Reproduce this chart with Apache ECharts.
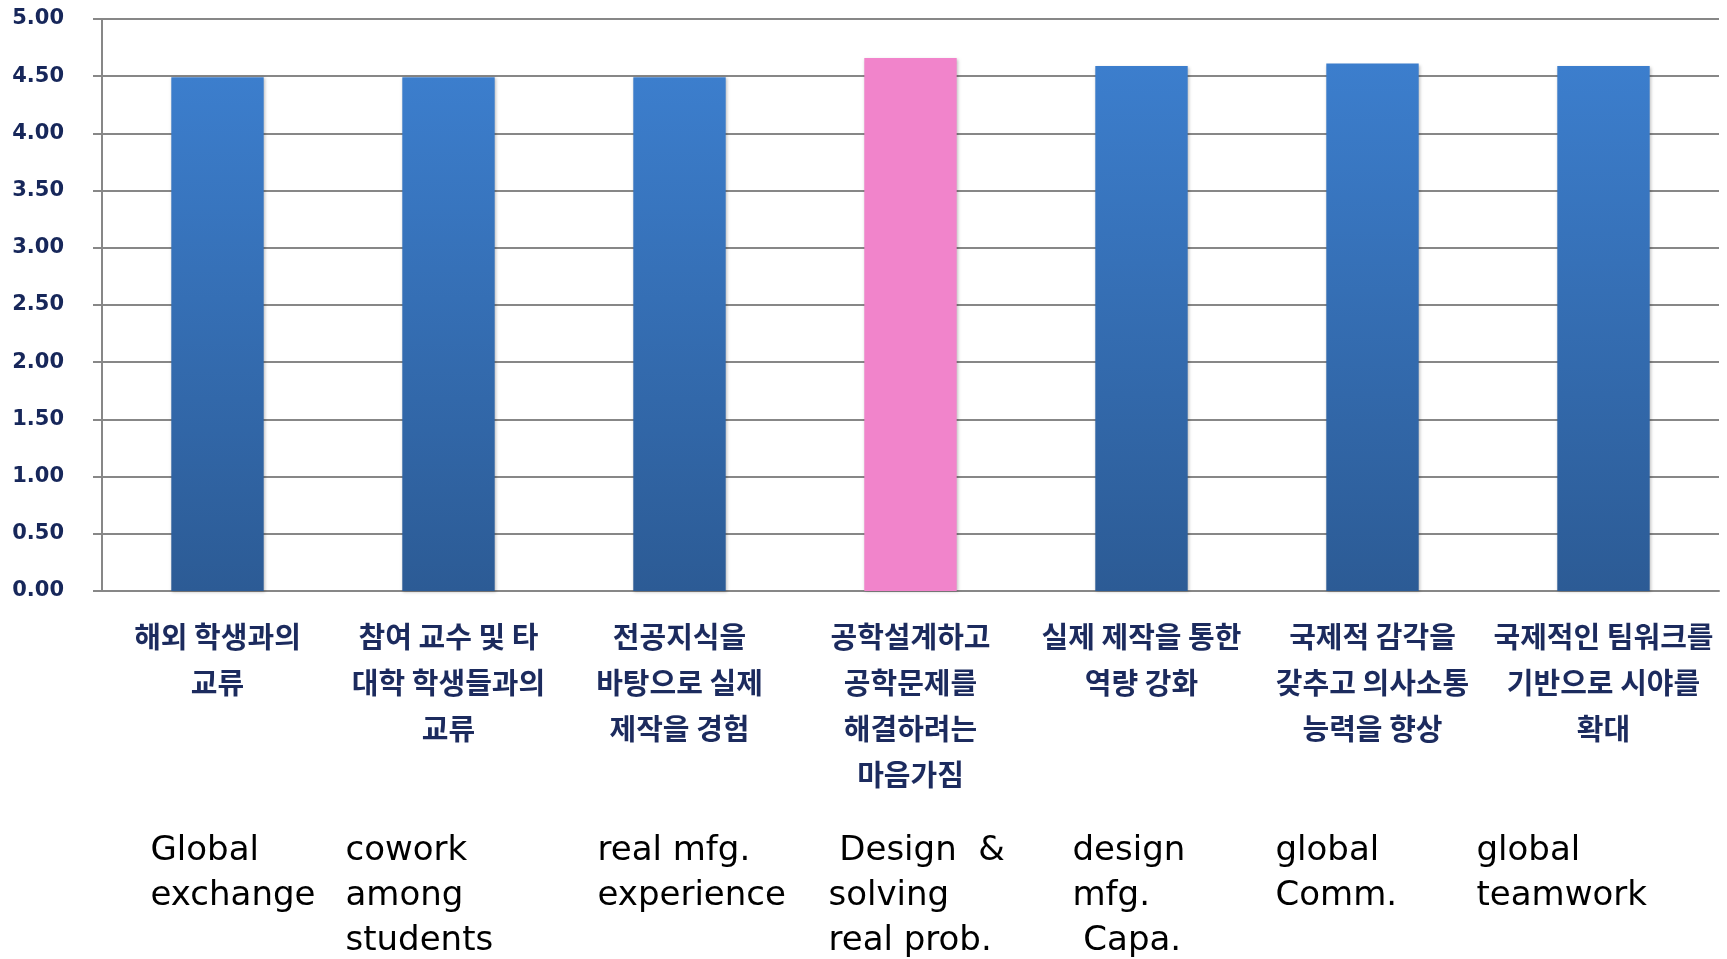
<!DOCTYPE html>
<html>
<head>
<meta charset="utf-8">
<style>
  html, body { margin: 0; padding: 0; background: #fff; overflow: hidden; }
  #chart { width: 1727px; height: 959px; }
</style>
<script src="https://cdn.jsdelivr.net/npm/echarts@6/dist/echarts.min.js"></script>
</head>
<body>
<div id="chart"></div>
<script>
// 항목 (Korean labels) and English notes under them
const categories = [
  '해외 학생과의\n교류',
  '참여 교수 및 타\n대학 학생들과의\n교류',
  '전공지식을\n바탕으로 실제\n제작을 경험',
  '공학설계하고\n공학문제를\n해결하려는\n마음가짐',
  '실제 제작을 통한\n역량 강화',
  '국제적 감각을\n갖추고 의사소통\n능력을 향상',
  '국제적인 팀워크를\n기반으로 시야를\n확대'
]
const englishLabels = [
  'Global\nexchange',
  'cowork\namong\nstudents',
  'real mfg.\nexperience',
  ' Design  &\nsolving\nreal prob.',
  'design\nmfg.\n Capa.',
  'global\nComm.',
  'global\nteamwork'
]
const scores = [4.49, 4.49, 4.49, 4.66, 4.59, 4.61, 4.59]
const yTicks = [0, 0.5, 1, 1.5, 2, 2.5, 3, 3.5, 4, 4.5, 5]
const highlightIndex = 3

// width of the left-aligned block for each english label (layout only)
const engBlockWidths = [134, 206, 164, 164, 138, 194, 254]

const chart = echarts.init(document.getElementById('chart'))

const blueGradient = new echarts.graphic.LinearGradient(0, 0, 0, 1, [
  { offset: 0, color: '#3C7ECD' },
  { offset: 1, color: '#2C5B95' }
])

const engRich = {}
engBlockWidths.forEach((w, i) => {
  engRich['c' + i] = {
    width: w,
    align: 'left',
    fontFamily: 'DejaVu Sans',
    fontSize: 34,
    lineHeight: 45,
    color: '#000'
  }
})

chart.setOption({
  animation: false,
  grid: {
    left: 102,
    right: 8,
    top: 19,
    bottom: 368,
    outerBoundsMode: 'none'
  },
  xAxis: [
    {
      type: 'category',
      data: categories,
      axisLine: { lineStyle: { color: '#878787', width: 2 } },
      axisTick: { length: 8, lineStyle: { color: '#878787', width: 2 } },
      axisLabel: {
        interval: 0,
        margin: 23,
        fontFamily: 'Noto Sans CJK KR',
        fontWeight: 'bold',
        fontSize: 29,
        lineHeight: 46,
        color: '#1C2B5E'
      }
    },
    {
      type: 'category',
      data: englishLabels,
      position: 'bottom',
      offset: 238,
      axisLine: { show: false },
      axisTick: { show: false },
      splitLine: { show: false },
      axisLabel: {
        interval: 0,
        margin: 0,
        formatter: (value, idx) =>
          value.split('\n').map(l => '{c' + idx + '|' + l + '}').join('\n'),
        rich: engRich
      }
    }
  ],
  yAxis: {
    type: 'value',
    min: yTicks[0],
    max: yTicks[yTicks.length - 1],
    interval: yTicks[1] - yTicks[0],
    axisLine: { show: true, lineStyle: { color: '#878787', width: 2 } },
    axisTick: { show: true, length: 9, lineStyle: { color: '#878787', width: 2 } },
    splitLine: { lineStyle: { color: '#878787', width: 2 } },
    axisLabel: {
      margin: 38,
      formatter: v => v.toFixed(2),
      fontFamily: 'DejaVu Sans',
      fontWeight: 'bold',
      fontSize: 21,
      color: '#17275A'
    }
  },
  series: [
    {
      type: 'bar',
      xAxisIndex: 0,
      barWidth: '40%',
      itemStyle: {
        color: blueGradient,
        shadowColor: 'rgba(0,0,0,0.25)',
        shadowBlur: 3,
        shadowOffsetX: 1,
        shadowOffsetY: 1
      },
      data: scores.map((v, i) => i === highlightIndex
        ? { value: v, itemStyle: { color: '#F184CB' } }
        : v)
    }
  ]
})
</script>
</body>
</html>
